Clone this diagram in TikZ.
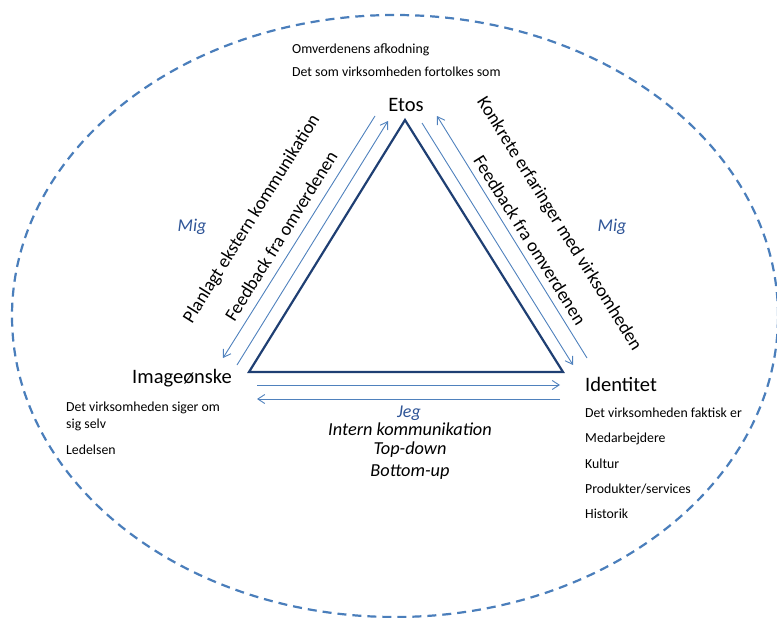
\documentclass[tikz,border=0pt]{standalone}
\usepackage{fontspec}
\setmainfont{Carlito}
\usetikzlibrary{arrows.meta}
\definecolor{ringblue}{HTML}{4A7EBB}
\definecolor{arrowblue}{HTML}{4F81BD}
\definecolor{edgeblue}{HTML}{1F3F73}
\definecolor{labelblue}{HTML}{2F5597}
\tikzset{
    ring/.style={draw=ringblue, line width=2.2pt, dash pattern=on 9pt off 6pt},
    edge/.style={draw=edgeblue, line width=2.2pt, line join=miter},
    flow/.style={draw=arrowblue, line width=0.9pt, -{Straight Barb[length=7pt,width=9pt]}},
    corner/.style={font=\fontsize{20.5}{24}\selectfont, inner sep=0pt},
    note/.style={font=\fontsize{13.8}{16}\selectfont, anchor=west, inner sep=0pt},
    side/.style={font=\fontsize{18.5}{22}\selectfont, inner sep=0pt},
    mig/.style={font=\fontsize{18}{22}\selectfont\itshape, text=labelblue, inner sep=0pt},
    intern/.style={font=\fontsize{18.3}{22}\selectfont\itshape, inner sep=0pt}
}

\begin{document}
\begin{tikzpicture}[x=1pt, y=-1pt]
    \useasboundingbox (0,0) rectangle (777,618);
    \draw[ring] (395,316) ellipse [x radius=383pt, y radius=301pt];

    % triangle
    \coordinate (apex) at (405,120);
    \coordinate (bl) at (249,372);
    \coordinate (br) at (563,372);
    \draw[edge] (apex) -- (bl) -- (br) -- cycle;

    % arrow ends
    \coordinate (lo1) at (375,116);
    \coordinate (lo2) at (223,358);
    \coordinate (li1) at (237,365);
    \coordinate (li2) at (388,121);
    \coordinate (ri1) at (422,123);
    \coordinate (ri2) at (573,365);
    \coordinate (ro1) at (587,358);
    \coordinate (ro2) at (437,116);
    \coordinate (bt1) at (257,385);
    \coordinate (bt2) at (560,385);
    \coordinate (bb1) at (560,399);
    \coordinate (bb2) at (257,399);
    \draw[flow] (lo1) -- (lo2);
    \draw[flow] (li1) -- (li2);
    \draw[flow] (ri1) -- (ri2);
    \draw[flow] (ro1) -- (ro2);
    \draw[flow] (bt1) -- (bt2);
    \draw[flow] (bb1) -- (bb2);

    % corners
    \node[corner] (etos) at (406,105) {Etos};
    \node[corner] (image) at (182,378) {Imageønske};
    \node[corner, anchor=west] (ident) at (585,384) {Identitet};

    \node[note] (afk) at (292,50) {Omverdenens afkodning};
    \node[note] (fort) at (292,72) {Det som virksomheden fortolkes som};

    \node[note] (sig1) at (66,408) {Det virksomheden siger om};
    \node[note] (sig2) at (66,425) {sig selv};
    \node[note] (led) at (66,450) {Ledelsen};

    \node[note] (fakt) at (585,413) {Det virksomheden faktisk er};
    \node[note] (medarb) at (585,439) {Medarbejdere};
    \node[note] (kultur) at (585,464) {Kultur};
    \node[note] (prod) at (585,489) {Produkter/services};
    \node[note] (hist) at (585,514) {Historik};

    % sides
    \node[mig] (migl) at (192,227) {Mig};
    \node[mig] (migr) at (612,227) {Mig};
    \node[mig] (jeg) at (409,413) {Jeg};
    \node[intern] (intern) at (410,429) {Intern kommunikation};
    \node[intern] (topdown) at (410,450) {Top-down};
    \node[intern] (bottomup) at (410,472) {Bottom-up};

    \node[side, rotate=58] (plan) at (252,219) {Planlagt ekstern kommunikation};
    \node[side, rotate=58] (feedl) at (281,236) {Feedback fra omverdenen};
    \node[side, rotate=-58] (konk) at (559,224) {Konkrete erfaringer med virksomheden};
    \node[side, rotate=-58] (feedr) at (530,240) {Feedback fra omverdenen};
\end{tikzpicture}
\end{document}
